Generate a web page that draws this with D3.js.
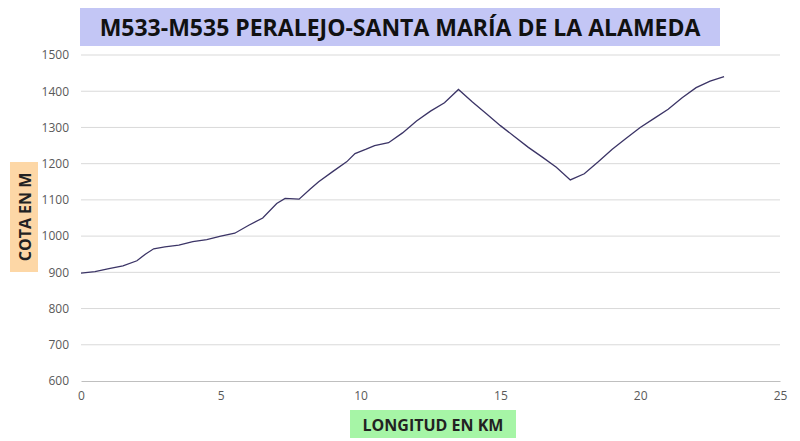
<!DOCTYPE html>
<html><head><meta charset="utf-8">
<script src="https://cdn.jsdelivr.net/npm/d3@7"></script>
<style>body{margin:0;background:#fff;font-family:"Open Sans",sans-serif}</style>
</head><body>
<svg id="chart" width="800" height="441"></svg>
<script>
// km along route
const km = [0,0.5,1,1.5,2,2.3,2.6,3,3.5,4,4.5,5,5.5,6,6.5,7,7.3,7.8,8.2,8.5,9,9.5,9.8,10.2,10.5,11,11.5,12,12.5,13,13.5,14,14.5,15,15.5,16,16.5,17,17.5,18,18.5,19,19.5,20,20.5,21,21.5,22,22.5,23];
// elevation in m
const cota = [898,902,910,918,932,950,965,970,975,985,990,1000,1008,1030,1050,1090,1104,1102,1130,1150,1178,1205,1228,1240,1250,1258,1285,1318,1345,1368,1405,1370,1338,1305,1275,1245,1218,1190,1155,1172,1205,1240,1270,1300,1325,1350,1382,1410,1428,1440];
const xTicks = [0,5,10,15,20,25];
const yTicks = [600,700,800,900,1000,1100,1200,1300,1400,1500];

const svg = d3.select('#chart');
const x = d3.scaleLinear().domain([0,25]).range([81,780]);
const y = d3.scaleLinear().domain([600,1500]).range([381,55]);

svg.append('g').selectAll('line').data(yTicks.slice(1)).join('line')
  .attr('x1',81).attr('x2',780).attr('y1',d=>y(d)).attr('y2',d=>y(d))
  .attr('stroke','#d9d9d9');

svg.append('g').attr('transform','translate(0,381)')
  .call(d3.axisBottom(x).tickValues(xTicks).tickSize(0).tickPadding(10).tickFormat(d3.format('d')))
  .call(g=>g.select('.domain').attr('stroke','#bfbfbf'))
  .call(g=>g.selectAll('text').attr('font-size',12).attr('fill','#595959').attr('font-family','Open Sans'));
svg.append('g').attr('transform','translate(81,0)')
  .call(d3.axisLeft(y).tickValues(yTicks).tickSize(0).tickPadding(12).tickFormat(d3.format('d')))
  .call(g=>g.select('.domain').remove())
  .call(g=>g.selectAll('text').attr('font-size',12).attr('fill','#595959').attr('font-family','Open Sans'));

svg.append('path').datum(km.map((k,i)=>[k,cota[i]]))
  .attr('d',d3.line().x(d=>x(d[0])).y(d=>y(d[1])))
  .attr('fill','none').attr('stroke','#3b3466').attr('stroke-width',1.3);

// title
svg.append('rect').attr('x',80).attr('y',8).attr('width',640).attr('height',38).attr('fill','#c3c6f5');
svg.append('text').attr('x',400).attr('y',36).attr('text-anchor','middle')
  .attr('font-size',23).attr('font-weight','bold').attr('fill','#111')
  .text('M533-M535 PERALEJO-SANTA MARÍA DE LA ALAMEDA');

// axis titles
svg.append('rect').attr('x',350).attr('y',410).attr('width',166).attr('height',28).attr('fill','#a6f5a6');
svg.append('text').attr('x',433).attr('y',431).attr('text-anchor','middle')
  .attr('font-size',16).attr('font-weight','bold').attr('fill','#222').text('LONGITUD EN KM');
svg.append('rect').attr('x',10).attr('y',162).attr('width',28).attr('height',110).attr('fill','#fdd7a6');
svg.append('text').attr('transform','translate(31,217) rotate(-90)').attr('text-anchor','middle')
  .attr('font-size',16).attr('font-weight','bold').attr('fill','#222').text('COTA EN M');
</script>
</body></html>
